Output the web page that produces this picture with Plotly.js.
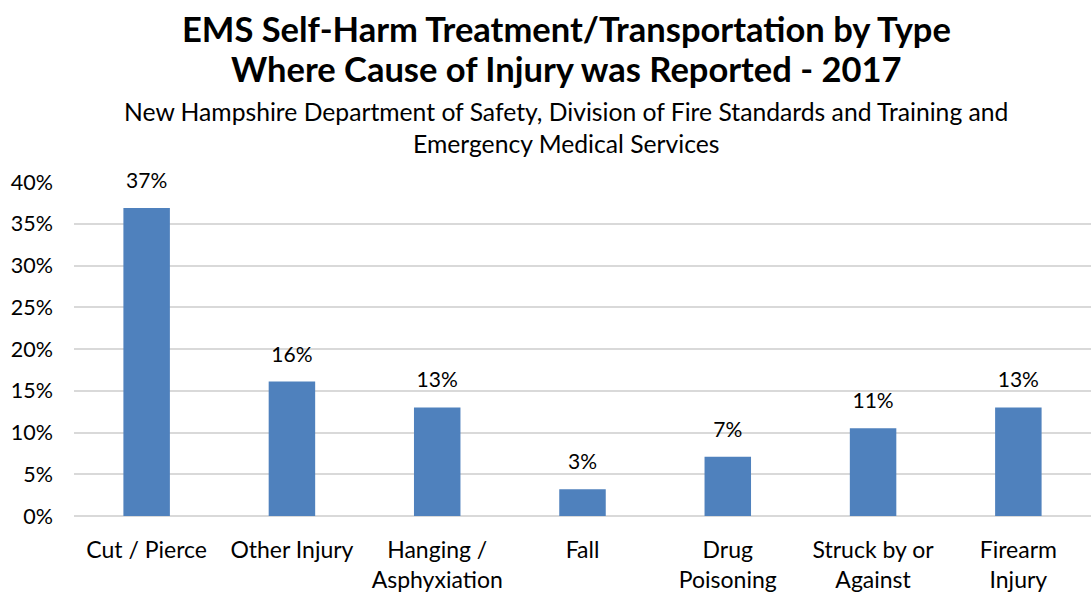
<!DOCTYPE html>
<html>
<head>
<meta charset="utf-8">
<script src="https://cdn.plot.ly/plotly-3.0.1.min.js"></script>
<style>html,body{margin:0;padding:0;background:#fff;}#chart{width:1091px;height:600px;}</style>
</head>
<body>
<div id="chart"></div>
<script>
const categories = ["Cut / Pierce", "Other Injury", "Hanging /<br>Asphyxiation", "Fall", "Drug<br>Poisoning", "Struck by or<br>Against", "Firearm<br>Injury"];
const percentValues = [36.9, 16.1, 13.0, 3.2, 7.1, 10.5, 13.0];
const yTickValues = [0, 5, 10, 15, 20, 25, 30, 35, 40];
const yTickLabels = ["0%", "5%", "10%", "15%", "20%", "25%", "30%", "35%", "40%"];
const titleLines = ["EMS Self-Harm Treatment/Transportation by Type", "Where Cause of Injury was Reported - 2017"];
const subtitleLines = ["New Hampshire Department of Safety, Division of Fire Standards and Training and", "Emergency Medical Services"];

const FONT = "Lato, 'Open Sans', sans-serif";
const TOP = 182, PLOT_H = 334.5, LEFT = 74, PLOT_W = 1017;
function paperY(px) { return 1 + (TOP - px) / PLOT_H; }
const TITLE_X = (566 - LEFT) / PLOT_W;

const barTrace = {
  type: "bar",
  x: categories,
  y: percentValues,
  marker: {color: "#4F81BD"},
  width: 0.32,
  hoverinfo: "x+y"
};

const labelTrace = {
  type: "scatter",
  mode: "markers+text",
  x: categories,
  y: percentValues,
  marker: {size: 22, opacity: 0, color: "#fff"},
  text: percentValues.map(v => Math.round(v) + "%"),
  textposition: "top center",
  textfont: {family: FONT, size: 21, color: "#000"},
  cliponaxis: false,
  hoverinfo: "skip"
};

const annotations = [];
[28, 68].forEach((py, i) => annotations.push({
  text: "<b>" + titleLines[i] + "</b>",
  xref: "paper", yref: "paper", x: TITLE_X, xanchor: "center",
  y: paperY(py), yanchor: "middle", showarrow: false,
  font: {family: FONT, size: 34.5, color: "#000"}
}));
[111, 143].forEach((py, i) => annotations.push({
  text: subtitleLines[i],
  xref: "paper", yref: "paper", x: TITLE_X, xanchor: "center",
  y: paperY(py), yanchor: "middle", showarrow: false,
  font: {family: FONT, size: 24.7, color: "#000"}
}));

const layout = {
  width: 1091,
  height: 600,
  margin: {l: LEFT, r: 1091 - LEFT - PLOT_W, t: TOP, b: 600 - TOP - PLOT_H},
  paper_bgcolor: "#fff",
  plot_bgcolor: "#fff",
  font: {family: FONT, size: 20, color: "#000"},
  annotations: annotations,
  xaxis: {
    type: "category",
    showgrid: false,
    showline: false,
    ticks: "",
    ticklabelstandoff: 18,
    tickfont: {family: FONT, size: 23, color: "#000"}
  },
  yaxis: {
    range: [0, 40],
    tickvals: yTickValues,
    ticktext: yTickLabels,
    showgrid: true,
    gridcolor: "#D9D9D9",
    gridwidth: 1.5,
    zeroline: true,
    zerolinecolor: "#D9D9D9",
    zerolinewidth: 1.5,
    showline: false,
    ticks: "",
    ticklabelstandoff: 20,
    tickfont: {family: FONT, size: 21.5, color: "#000"}
  },
  showlegend: false
};

Plotly.newPlot("chart", [barTrace, labelTrace], layout, {displayModeBar: false, responsive: false});
</script>
</body>
</html>
